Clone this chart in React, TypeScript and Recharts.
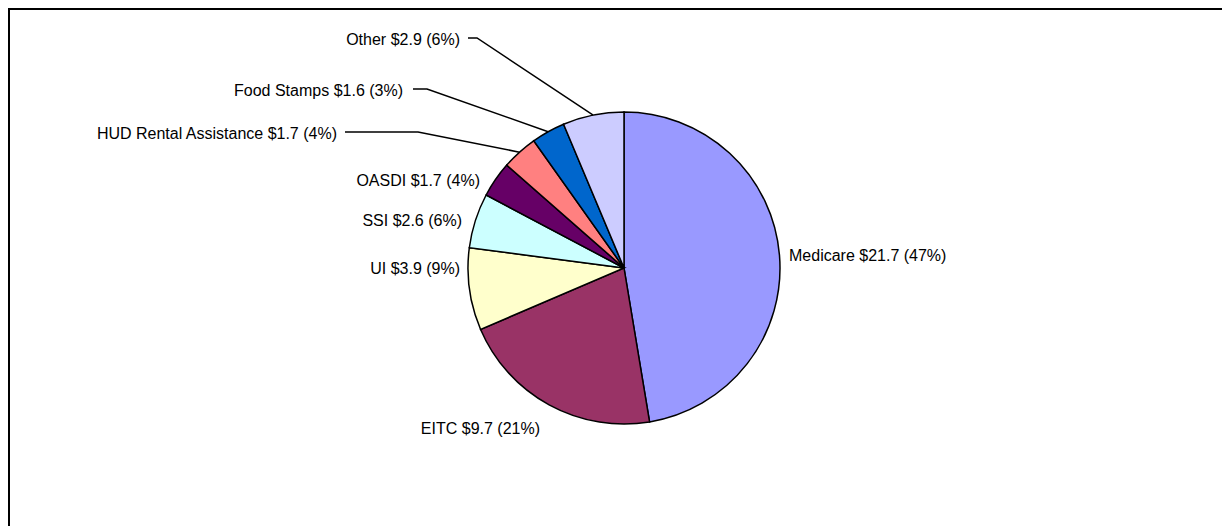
import { Pie, PieChart, Cell } from "recharts"

const programs = ["Medicare", "EITC", "UI", "SSI", "OASDI", "HUD Rental Assistance", "Food Stamps", "Other"]
const amounts = [21.7, 9.7, 3.9, 2.6, 1.7, 1.7, 1.6, 2.9]
const colors = ["#9999FF", "#993366", "#FFFFCC", "#CCFFFF", "#660066", "#FF8080", "#0066CC", "#CCCCFF"]

const total = amounts.reduce((a, b) => a + b, 0)
const data = programs.map((name, i) => ({ name, value: amounts[i] }))

// label placement relative to pie centre (Excel put these by hand)
type LabelSpot = { dx: number; dy: number; anchor: "start" | "end"; line?: { x0: number; x1: number } }
const labelSpots: Record<string, LabelSpot> = {
  Medicare: { dx: 165, dy: -13, anchor: "start" },
  EITC: { dx: -84, dy: 160, anchor: "end" },
  UI: { dx: -164, dy: 0, anchor: "end" },
  SSI: { dx: -162, dy: -48, anchor: "end" },
  OASDI: { dx: -144, dy: -88, anchor: "end" },
  "HUD Rental Assistance": { dx: -287, dy: -135, anchor: "end", line: { x0: -279, x1: -206 } },
  "Food Stamps": { dx: -221, dy: -178, anchor: "end", line: { x0: -211, x1: -197 } },
  Other: { dx: -164, dy: -229, anchor: "end", line: { x0: -156, x1: -147 } },
}

const RAD = Math.PI / 180

function renderLabel(props: any) {
  const { cx, cy, midAngle, outerRadius, name, value } = props
  const spot = labelSpots[name]
  if (!spot) return null
  const pct = Math.round((value / total) * 100)
  const text = `${name} $${value.toFixed(1)} (${pct}%)`
  const tx = cx + spot.dx
  const ty = cy + spot.dy
  let path = null
  if (spot.line) {
    const ex = cx + outerRadius * Math.cos(-midAngle * RAD)
    const ey = cy + outerRadius * Math.sin(-midAngle * RAD)
    const ly = ty - 1
    path = (
      <path
        d={`M${cx + spot.line.x0},${ly} L${cx + spot.line.x1},${ly} L${ex},${ey}`}
        stroke="#000"
        strokeWidth={1.5}
        fill="none"
      />
    )
  }
  return (
    <g>
      {path}
      <text
        x={tx}
        y={ty}
        textAnchor={spot.anchor}
        dominantBaseline="central"
        fill="#000"
        fontSize={16}
        fontFamily="'Liberation Sans', Arial, sans-serif"
      >
        {text}
      </text>
    </g>
  )
}

export default function App() {
  return (
    <div style={{ position: "relative", width: 1222, height: 518, overflow: "hidden", background: "#fff" }}>
      <div
        style={{
          position: "absolute",
          left: 0,
          top: 0,
          width: 1240,
          height: 540,
          borderTop: "2px solid #000",
          borderLeft: "2px solid #000",
          boxSizing: "border-box",
        }}
      />
      <div style={{ position: "absolute", left: 0, top: 0 }}>
        <PieChart width={1222} height={518}>
          <Pie
            data={data}
            dataKey="value"
            nameKey="name"
            cx={611}
            cy={255}
            outerRadius={156}
            startAngle={90}
            endAngle={-270}
            stroke="#000"
            strokeWidth={1.5}
            label={renderLabel}
            labelLine={false}
            isAnimationActive={false}
          >
            {data.map((d, i) => (
              <Cell key={d.name} fill={colors[i]} />
            ))}
          </Pie>
        </PieChart>
      </div>
    </div>
  )
}
